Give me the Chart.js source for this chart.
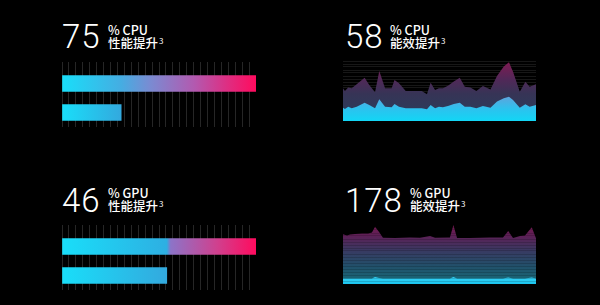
<!DOCTYPE html>
<html>
<head>
<meta charset="utf-8">
<script src="https://cdn.jsdelivr.net/npm/chart.js@4"></script>
<style>
  body { margin: 0; background: #000; width: 600px; height: 305px; overflow: hidden; position: relative; }
  .num { position: absolute; font-family: Roboto, sans-serif; font-weight: 300; font-size: 33px; line-height: 33px; color: #fff; letter-spacing: 1px; }
  .lab { position: absolute; font-family: "Noto Sans CJK SC", sans-serif; font-weight: 500; font-size: 12.5px; line-height: 13px; color: #fff; }
  .lab sup { font-size: 8px; font-weight: 400; vertical-align: top; position: relative; top: -2px; margin-left: 1px; }
  canvas { position: absolute; }
</style>
</head>
<body>
<div class="num" style="left:62px;top:20px">75</div>
<div class="lab" style="left:108px;top:23px">% CPU<br>性能提升<sup>3</sup></div>
<div class="num" style="left:345px;top:20px">58</div>
<div class="lab" style="left:390px;top:23px">% CPU<br>能效提升<sup>3</sup></div>
<div class="num" style="left:62px;top:184px">46</div>
<div class="lab" style="left:108px;top:186px">% GPU<br>性能提升<sup>3</sup></div>
<div class="num" style="left:345px;top:184px">178</div>
<div class="lab" style="left:410px;top:186px">% GPU<br>能效提升<sup>3</sup></div>

<canvas id="cpuPerf" width="194" height="65" style="left:62px;top:62px"></canvas>
<canvas id="gpuPerf" width="194" height="65" style="left:62px;top:225px"></canvas>
<canvas id="cpuEff" width="193" height="60" style="left:343px;top:61px"></canvas>
<canvas id="gpuEff" width="193" height="60" style="left:343px;top:224px"></canvas>

<script>
// bar rows: new chip, previous chip (relative length)
const barRows = ['new', 'old'];
const cpuPerfValues = [100, 30.5];
const gpuPerfValues = [100, 54];

// efficiency traces, x in % of the run
const cpuEffX = [0, 1, 2.7, 4.5, 7.1, 11.2, 13.6, 16.6, 18.8, 21.8, 25.2, 26.7, 29, 32.5, 40.8, 43.5, 45.4, 47.7, 49.7, 51.8, 54.4, 57.4, 60.5, 63.1, 66, 69.1, 72.5, 76.4, 79.8, 83.3, 86, 88.1, 91.6, 94.5, 96.7, 100];
const cpuEffNew = [32.7, 30, 33.5, 32.7, 36.7, 43.3, 36, 28.7, 50, 32.7, 32.7, 41, 37.7, 30, 30, 26.7, 38.3, 31, 32.7, 32.7, 35.3, 39.5, 43.3, 34.3, 33.5, 30, 35, 31.5, 45, 54.5, 58.7, 49.3, 29.3, 39.3, 34.3, 36.7];
const cpuEffOld = [13.3, 12, 14.3, 12.7, 14.3, 18.3, 16, 12.7, 21.7, 14.3, 13.7, 17, 14.3, 12.7, 12.7, 11.7, 16, 12.7, 14.3, 13.7, 15, 17, 18.3, 14.3, 14.3, 12.7, 15, 13.3, 19.5, 22.7, 24.3, 21, 13.3, 16.7, 14.3, 16];

const gpuEffX = [0, 2.1, 3.6, 6.2, 9.8, 13, 15, 16.6, 18.7, 20.7, 26.9, 34.7, 39.9, 45.1, 47.7, 55.4, 57.2, 59.1, 65.8, 76.2, 82.9, 85.6, 88.1, 91.7, 94.3, 97.8, 100];
const gpuEffNew = [49.7, 48.5, 49.5, 50, 50.5, 50.5, 51.5, 57.3, 52, 46.3, 46, 46.5, 46.2, 48, 46.3, 46.5, 59, 46, 46, 46.5, 46.5, 53, 46, 48, 48.5, 56.7, 45.7];
const gpuEffOld = [5.5, 5.5, 5.5, 5.5, 5.5, 5.5, 5.5, 7, 6, 5.5, 5.5, 5.5, 5.5, 5.5, 5.5, 5.5, 7, 5.5, 5.5, 5.5, 5.5, 6.5, 5.5, 5.5, 5.5, 6.5, 5.5];

Chart.defaults.animation = false;
Chart.defaults.responsive = false;
Chart.defaults.plugins.legend.display = false;
Chart.defaults.plugins.tooltip.enabled = false;

function barColor(values, splitColor, midStops) {
  return function (c) {
    const chart = c.chart;
    const area = chart.chartArea;
    if (!area) return '#1ad9f7';
    const x = chart.scales.x;
    const end = x.getPixelForValue(values[c.dataIndex]);
    const g = chart.ctx.createLinearGradient(area.left, 0, end, 0);
    if (c.dataIndex === 0) {
      const split = (x.getPixelForValue(values[1]) - area.left) / (end - area.left);
      g.addColorStop(0, '#19def9');
      g.addColorStop(split, splitColor);
      midStops(split).forEach(s => g.addColorStop(s[0], s[1]));
      g.addColorStop(1, '#ff0b5e');
    } else {
      g.addColorStop(0, '#19def9');
      g.addColorStop(1, '#33a9de');
    }
    return g;
  };
}

function makeBars(id, values, splitColor, midStops) {
  new Chart(document.getElementById(id), {
    type: 'bar',
    data: {
      labels: barRows,
      datasets: [{
        data: values,
        backgroundColor: barColor(values, splitColor, midStops),
        borderWidth: 0,
        barThickness: 16
      }]
    },
    options: {
      indexAxis: 'y',
      layout: { padding: 0 },
      scales: {
        x: {
          position: 'top',
          min: 0, max: 100,
          ticks: { display: false, count: 29, autoSkip: false },
          grid: { color: '#262626', lineWidth: 1, tickLength: 7 },
          border: { display: false }
        },
        y: { display: false }
      }
    }
  });
}

makeBars('cpuPerf', cpuPerfValues, '#45ade2', s => [[s + 0.15, '#7a8bd2'], [0.68, '#b25ab0'], [0.86, '#e02c80']]);
makeBars('gpuPerf', gpuPerfValues, '#2eafe2', s => [[s + 0.02, '#8c74c8'], [0.8, '#d0408e']]);

function vGrad(chart, stops) {
  const a = chart.chartArea;
  if (!a) return '#333';
  const g = chart.ctx.createLinearGradient(0, a.bottom, 0, a.top);
  stops.forEach(s => g.addColorStop(s[0], s[1]));
  return g;
}

function makeTrace(id, xs, upper, lower, upperStops, lowerStops, gridColor, gridZ) {
  const pts = arr => xs.map((x, i) => ({ x: x, y: arr[i] }));
  new Chart(document.getElementById(id), {
    type: 'line',
    data: {
      datasets: [
        {
          data: pts(lower), order: 0, fill: 'origin', borderWidth: 0, pointRadius: 0,
          backgroundColor: c => vGrad(c.chart, lowerStops)
        },
        {
          data: pts(upper), order: 1, fill: 'origin', borderWidth: 0, pointRadius: 0,
          backgroundColor: c => vGrad(c.chart, upperStops)
        }
      ]
    },
    options: {
      layout: { padding: 0 },
      scales: {
        x: { type: 'linear', min: 0, max: 100, display: false },
        y: {
          min: 0, max: 60,
          ticks: { display: false, count: 21, autoSkip: false },
          grid: { color: gridColor, lineWidth: 1, drawTicks: false, z: gridZ },
          border: { display: false }
        }
      }
    }
  });
}

makeTrace('cpuEff', cpuEffX, cpuEffNew, cpuEffOld,
  [[0, '#283e5c'], [0.45, '#363456'], [0.7, '#522858'], [1, '#821a52']],
  [[0, '#12d6f5'], [0.2, '#2cc2ee'], [0.42, '#62a2dc']],
  '#171717', 0);

makeTrace('gpuEff', gpuEffX, gpuEffNew, gpuEffOld,
  [[0, '#166c7a'], [0.3, '#22506a'], [0.55, '#383a62'], [0.8, '#5c2056'], [1, '#781850']],
  [[0, '#1ac4ee'], [0.11, '#36d2f6']],
  'rgba(0,0,0,0.16)', 1);
</script>
</body>
</html>
